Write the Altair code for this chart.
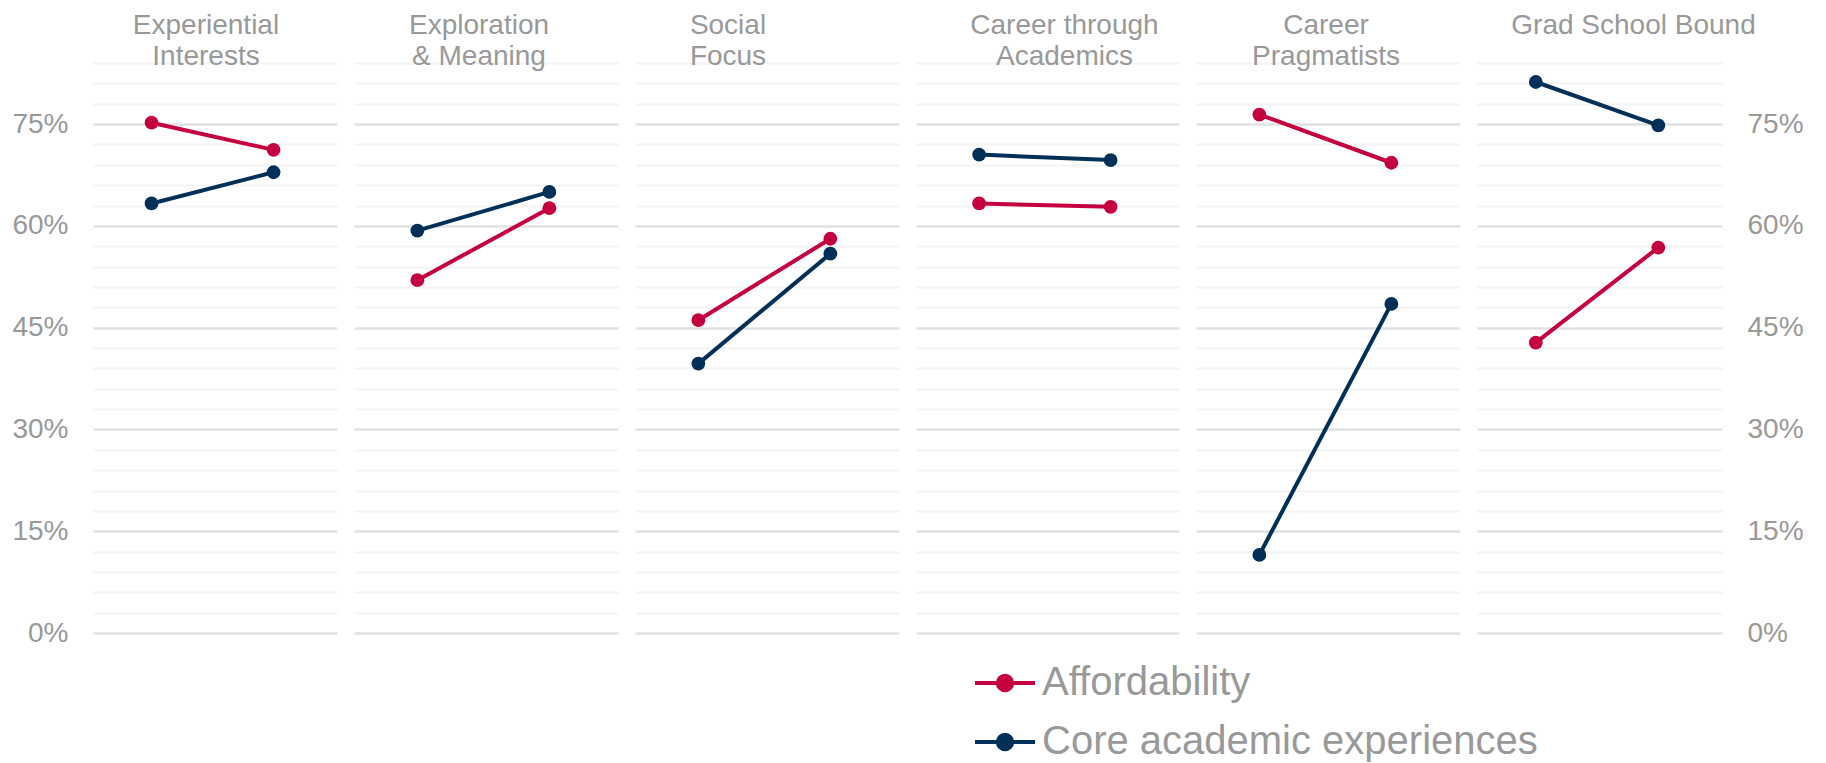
import altair as alt
import pandas as pd

groups = ["Experiential Interests", "Exploration & Meaning", "Social Focus",
          "Career through Academics", "Career Pragmatists", "Grad School Bound"]
title_lines = [["Experiential", "Interests"], ["Exploration", "& Meaning"], ["Social", "Focus"],
               ["Career through", "Academics"], ["Career", "Pragmatists"], ["Grad School Bound", " "]]
series = ["Affordability", "Core academic experiences"]
periods = [1, 2]
afford_start = [75.2, 52.0, 46.1, 63.3, 76.4, 42.8]
afford_end = [71.2, 62.6, 58.1, 62.8, 69.3, 56.8]
core_start = [63.3, 59.3, 39.7, 70.5, 11.5, 81.2]
core_end = [67.9, 65.0, 55.9, 69.7, 48.5, 74.8]
grid_values = list(range(0, 85, 3))

colors = ["#C5003E", "#003057"]
panel_widths = [244, 264, 264, 263, 264, 245]
title_dx = [-9, -7, -39, 17, -2, 34]
GRAY = "#999999"
FONT = "Liberation Sans"

rows = []
for i, g in enumerate(groups):
    pairs = [(afford_start[i], afford_end[i]), (core_start[i], core_end[i])]
    for s, vals in zip(series, pairs):
        for p, v in zip(periods, vals):
            rows.append({"group": g, "series": s, "period": p, "value": v})
df = pd.DataFrame(rows)

legend_symbol = ("M-1,0L1,0M-0.24,0A0.24,0.24,0,1,0,0.24,0"
                 "A0.24,0.24,0,1,0,-0.24,0Z")

color = alt.Color(
    "series:N",
    scale=alt.Scale(domain=series, range=colors),
    legend=alt.Legend(
        title=None, orient="none", legendX=880, legendY=588,
        symbolType=legend_symbol, symbolSize=3600, symbolStrokeWidth=4,
        labelFontSize=40, labelColor=GRAY, labelFont=FONT, labelOffset=5,
        rowPadding=7, labelLimit=800,
    ),
)

MAJOR = "datum.value % 15 === 0"

def make_axis(idx):
    common = dict(
        values=grid_values,
        grid=True,
        gridColor={"condition": {"test": MAJOR, "value": "#e2e2e2"}, "value": "#f4f4f4"},
        gridWidth={"condition": {"test": MAJOR, "value": 2.5}, "value": 2},
        ticks=False, domain=False, title=None, labelOverlap=False,
    )
    if idx == 0 or idx == len(groups) - 1:
        return alt.Axis(
            orient="left" if idx == 0 else "right",
            labelExpr=MAJOR + " ? datum.value + '%' : ''",
            labelFontSize={"condition": {"test": MAJOR, "value": 28}, "value": 0},
            labelColor=GRAY, labelFont=FONT, labelPadding=25,
            **common,
        )
    return alt.Axis(labels=False, **common)

panels = []
for i, g in enumerate(groups):
    base = alt.Chart(df).transform_filter(alt.datum.group == g).encode(
        x=alt.X("period:Q", scale=alt.Scale(domain=[0.52, 2.52]), axis=None),
        y=alt.Y("value:Q", scale=alt.Scale(domain=[0, 84], nice=False), axis=make_axis(i)),
        color=color,
        detail="series:N",
    )
    lines = base.mark_line(strokeWidth=4)
    points = base.mark_point(filled=True, size=190, opacity=1)
    panel = alt.layer(lines, points).properties(
        width=panel_widths[i], height=570,
        title=alt.TitleParams(
            text=title_lines[i], fontSize=28, color=GRAY, font=FONT,
            fontWeight="normal", anchor="middle", baseline="bottom",
            offset=-9, dy=27, dx=title_dx[i], lineHeight=31,
        ),
    )
    panels.append(panel)

chart = alt.hconcat(*panels, spacing=17, bounds="flush").properties(
    padding={"left": 3, "top": 4, "right": 5, "bottom": 5},
    background="white",
).configure(font=FONT).configure_view(stroke=None)

chart.save("out.html", embed_options={"renderer": "svg", "actions": False})
